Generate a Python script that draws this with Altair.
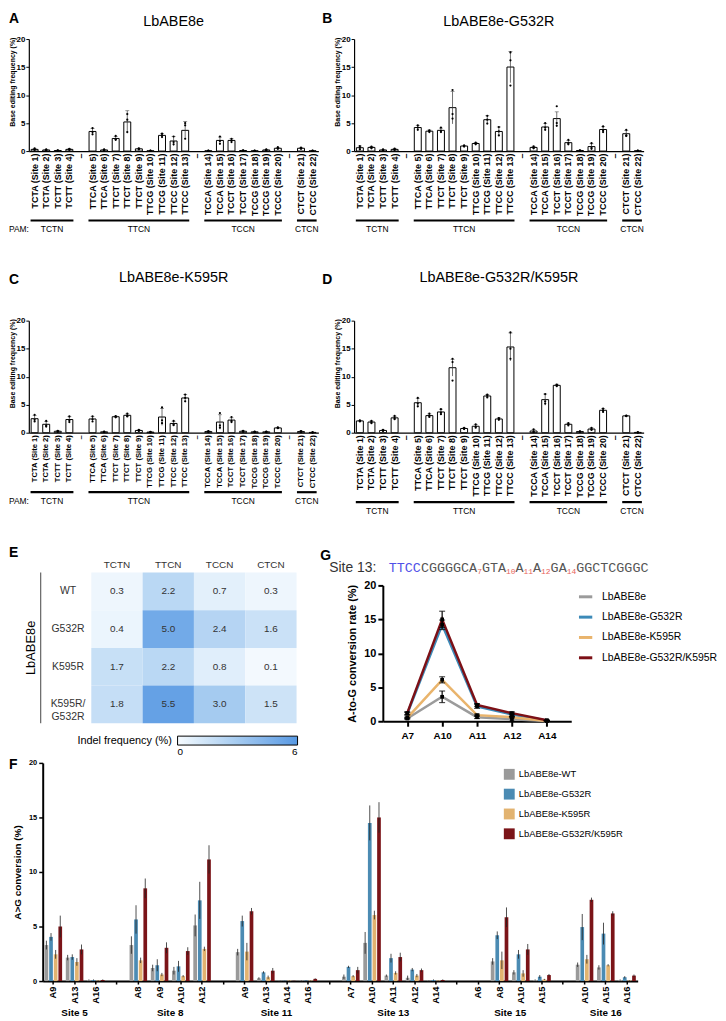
import altair as alt
import pandas as pd

FONT = "Liberation Sans"
MONO = "Liberation Mono"

# ---------------- Panels A-D ----------------
SITE_NAMES = [
    "TCTA (Site 1)", "TCTA (Site 2)", "TCTT (Site 3)", "TCTT (Site 4)",
    "TTCA (Site 5)", "TTCA (Site 6)", "TTCT (Site 7)", "TTCT (Site 8)", "TTCT (Site 9)",
    "TTCG (Site 10)", "TTCG (Site 11)", "TTCC (Site 12)", "TTCC (Site 13)",
    "TCCA (Site 14)", "TCCA (Site 15)", "TCCT (Site 16)", "TCCT (Site 17)",
    "TCCG (Site 18)", "TCCG (Site 19)", "TCCC (Site 20)",
    "CTCT (Site 21)", "CTCC (Site 22)",
]
PAM_NAMES = ["TCTN", "TTCN", "TCCN", "CTCN"]
PAM_SIZES = [4, 9, 7, 2]

A_MEAN = [0.3, 0.2, 0.1, 0.3, 3.5, 0.2, 2.25, 5.2, 0.4, 0.05, 2.8, 1.8, 3.7,
          0.05, 1.9, 1.9, 0.1, 0.05, 0.2, 0.5, 0.5, 0.05]
A_SD = [0.15, 0.1, 0.05, 0.1, 0.5, 0.1, 0.35, 2.0, 0.1, 0.03, 0.3, 0.8, 1.6,
        0.03, 0.6, 0.3, 0.05, 0.03, 0.1, 0.15, 0.1, 0.03]
A_REPS = [[0.5, 0.3, 0.2], [0.3, 0.2, 0.1], [0.15, 0.1, 0.05], [0.4, 0.3, 0.2],
          [4.1, 3.4, 3.0], [0.3, 0.2, 0.1], [2.7, 2.1, 2.0], [6.6, 5.6, 3.4], [0.5, 0.4, 0.3],
          [0.08, 0.05, 0.02], [3.1, 2.8, 2.5], [2.6, 1.6, 1.2], [5.0, 4.6, 2.2],
          [0.08, 0.05, 0.02], [2.6, 1.8, 1.3], [2.2, 1.9, 1.6], [0.15, 0.1, 0.05],
          [0.08, 0.05, 0.02], [0.3, 0.2, 0.1], [0.7, 0.5, 0.4], [0.6, 0.5, 0.4], [0.08, 0.05, 0.02]]

B_MEAN = [0.6, 0.65, 0.2, 0.3, 4.2, 3.55, 3.7, 7.75, 0.9, 1.35, 5.6, 3.5, 15.0,
          0.65, 4.3, 5.8, 1.5, 0.1, 0.8, 3.85, 3.1, 0.05]
B_SD = [0.3, 0.15, 0.1, 0.15, 0.4, 0.2, 0.4, 2.9, 0.1, 0.15, 0.7, 0.8, 2.8,
        0.2, 0.6, 1.2, 0.4, 0.05, 0.5, 0.5, 0.6, 0.03]
B_REPS = [[0.9, 0.6, 0.3], [0.8, 0.6, 0.5], [0.3, 0.2, 0.1], [0.45, 0.3, 0.2],
          [4.6, 4.2, 3.8], [3.7, 3.6, 3.4], [4.2, 3.6, 3.4], [10.9, 6.6, 5.8], [1.0, 0.9, 0.8],
          [1.5, 1.35, 1.2], [6.3, 5.6, 4.9], [4.3, 3.5, 2.8], [17.6, 16.2, 11.7],
          [0.85, 0.6, 0.5], [5.0, 4.2, 3.8], [8.0, 5.0, 4.5], [2.0, 1.4, 1.2],
          [0.15, 0.1, 0.05], [1.4, 0.6, 0.4], [4.4, 3.7, 3.4], [3.8, 2.8, 2.7], [0.08, 0.05, 0.02]]

C_MEAN = [2.5, 1.5, 0.25, 2.35, 2.45, 0.15, 2.85, 3.1, 0.4, 0.1, 2.8, 1.65, 6.2,
          0.2, 1.9, 2.25, 0.25, 0.15, 0.15, 0.85, 0.2, 0.05]
C_SD = [0.6, 0.5, 0.1, 0.5, 0.4, 0.05, 0.1, 0.25, 0.1, 0.05, 1.5, 0.4, 0.6,
        0.1, 1.3, 0.4, 0.1, 0.05, 0.05, 0.1, 0.1, 0.03]
C_REPS = [[3.2, 2.3, 2.0], [2.1, 1.3, 1.1], [0.35, 0.25, 0.15], [2.9, 2.2, 1.9],
          [2.9, 2.4, 2.0], [0.2, 0.15, 0.1], [2.95, 2.85, 2.75], [3.4, 3.0, 2.9], [0.5, 0.4, 0.3],
          [0.15, 0.1, 0.05], [4.5, 2.2, 1.7], [2.1, 1.5, 1.35], [6.8, 6.2, 5.6],
          [0.3, 0.2, 0.1], [3.5, 1.3, 0.9], [2.8, 2.1, 1.9], [0.35, 0.25, 0.15],
          [0.2, 0.15, 0.1], [0.2, 0.15, 0.1], [0.95, 0.85, 0.8], [0.3, 0.2, 0.1], [0.08, 0.05, 0.02]]

D_MEAN = [2.1, 1.9, 0.4, 2.65, 5.35, 3.05, 3.7, 11.6, 0.75, 1.15, 6.55, 2.45, 15.3,
          0.3, 5.9, 8.45, 1.5, 0.2, 0.65, 4.0, 3.0, 0.05]
D_SD = [0.1, 0.2, 0.1, 0.3, 0.8, 0.3, 0.5, 1.5, 0.1, 0.3, 0.3, 0.2, 2.5,
        0.3, 1.0, 0.2, 0.2, 0.05, 0.2, 0.3, 0.1, 0.03]
D_REPS = [[2.2, 2.1, 2.0], [2.1, 1.9, 1.7], [0.5, 0.4, 0.3], [3.0, 2.6, 2.4],
          [6.2, 5.2, 4.7], [3.4, 3.0, 2.8], [4.2, 3.6, 3.3], [13.2, 12.6, 9.3], [0.85, 0.75, 0.65],
          [1.5, 1.1, 0.9], [6.8, 6.6, 6.3], [2.6, 2.5, 2.3], [17.9, 15.0, 13.2],
          [0.6, 0.2, 0.1], [6.9, 5.6, 5.2], [8.6, 8.5, 8.3], [1.7, 1.5, 1.3],
          [0.25, 0.2, 0.15], [0.85, 0.6, 0.5], [4.3, 4.0, 3.7], [3.05, 3.0, 2.95], [0.08, 0.05, 0.02]]

# ---------------- Panel E ----------------
E_ROWS = ["WT", "G532R", "K595R", "K595R/G532R"]
E_COLS = ["TCTN", "TTCN", "TCCN", "CTCN"]
E_VALUES = [[0.3, 2.2, 0.7, 0.3],
            [0.4, 5.0, 2.4, 1.6],
            [1.7, 2.2, 0.8, 0.1],
            [1.8, 5.5, 3.0, 1.5]]

# ---------------- Panel G ----------------
G_POS = ["A7", "A10", "A11", "A12", "A14"]
G_SERIES = ["LbABE8e", "LbABE8e-G532R", "LbABE8e-K595R", "LbABE8e-G532R/K595R"]
G_COLORS = ["#9b9b9b", "#3c8ab8", "#e9b46c", "#7d1016"]
G_MEAN = [[0.4, 3.6, 0.6, 0.3, 0.05],
          [1.1, 14.2, 2.2, 1.0, 0.1],
          [0.5, 6.1, 0.9, 0.6, 0.05],
          [1.2, 15.0, 2.4, 1.2, 0.15]]
G_SD = [[0.1, 0.85, 0.2, 0.35, 0.02],
        [0.2, 0.7, 0.3, 0.2, 0.03],
        [0.1, 0.45, 0.15, 0.1, 0.02],
        [0.2, 1.2, 0.2, 0.2, 0.03]]
SEQ_SEGMENTS = [("TTCC", "main", "#5050e8"), ("CGGGGCA", "main", "#555555"), ("7", "sub", "#e8645a"),
                ("GTA", "main", "#555555"), ("10", "sub", "#e8645a"), ("A", "main", "#555555"),
                ("11", "sub", "#e8645a"), ("A", "main", "#555555"), ("12", "sub", "#e8645a"),
                ("GA", "main", "#555555"), ("14", "sub", "#e8645a"), ("GGCTCGGGC", "main", "#555555")]

# ---------------- Panel F ----------------
F_SITES = ["Site 5", "Site 8", "Site 11", "Site 13", "Site 15", "Site 16"]
F_POS = [["A9", "A13", "A16"], ["A8", "A9", "A10", "A12"], ["A9", "A13", "A14", "A16"],
         ["A7", "A10", "A11", "A12", "A14"], ["A6", "A8", "A10", "A15"], ["A10", "A15", "A16"]]
F_SERIES = ["LbABE8e-WT", "LbABE8e-G532R", "LbABE8e-K595R", "LbABE8e-G532R/K595R"]
F_COLORS = ["#9a9a9a", "#4b8bb3", "#e2b370", "#7b1418"]
F_MEAN = [
    [3.3, 2.15, 0.1, 3.3, 1.2, 0.95, 5.1, 2.65, 0.25, 0.02, 0.05, 0.4, 3.5, 0.5, 0.3, 0.05, 0.0, 1.8, 0.8, 0.1, 1.5, 1.25, 0.1],
    [4.05, 2.2, 0.1, 5.65, 1.45, 1.35, 7.4, 5.5, 0.8, 0.03, 0.05, 1.3, 14.5, 2.1, 1.05, 0.1, 0.0, 4.2, 2.45, 0.4, 4.95, 4.35, 0.35],
    [2.45, 1.75, 0.05, 1.9, 0.6, 0.45, 2.95, 2.7, 0.35, 0.05, 0.05, 0.45, 6.05, 0.75, 0.5, 0.05, 0.0, 1.9, 0.7, 0.15, 2.0, 1.45, 0.05],
    [5.0, 2.9, 0.1, 8.5, 3.05, 2.75, 11.15, 6.4, 0.95, 0.02, 0.2, 1.0, 15.0, 2.2, 1.0, 0.1, 0.0, 5.85, 2.9, 0.55, 7.45, 6.2, 0.5],
]
F_SD = [
    [0.4, 0.25, 0.05, 0.8, 0.3, 0.35, 1.0, 0.3, 0.1, 0.01, 0.02, 0.2, 1.0, 0.1, 0.2, 0.02, 0.0, 0.3, 0.2, 0.05, 0.2, 0.2, 0.05],
    [0.35, 0.25, 0.05, 1.3, 0.55, 0.5, 1.7, 0.5, 0.1, 0.01, 0.02, 0.1, 1.6, 0.4, 0.15, 0.05, 0.0, 0.35, 0.4, 0.15, 1.2, 1.0, 0.1],
    [0.4, 0.35, 0.03, 0.25, 0.15, 0.1, 0.2, 0.8, 0.15, 0.02, 0.02, 0.1, 0.4, 0.15, 0.15, 0.02, 0.0, 0.8, 0.3, 0.05, 0.4, 0.1, 0.03],
    [1.0, 0.45, 0.05, 0.9, 0.5, 0.35, 1.3, 0.3, 0.25, 0.01, 0.05, 0.3, 1.4, 0.4, 0.15, 0.05, 0.0, 0.9, 0.5, 0.1, 0.2, 0.2, 0.1],
]


# ---------------- helpers ----------------
def text_chart(txt, x, y, size, weight="normal", color="black", align="left",
               baseline="top", angle=None, font=FONT):
    kw = dict(fontSize=size, fontWeight=weight, color=color, align=align,
              baseline=baseline, font=font)
    if angle is not None:
        kw["angle"] = angle
    return alt.Chart(pd.DataFrame({"t": [txt]})).mark_text(**kw).encode(
        text="t:N", x=alt.value(x), y=alt.value(y))


def spacer(w, h):
    return alt.Chart(pd.DataFrame({"t": [""]})).mark_text().encode(
        text="t:N", x=alt.value(0), y=alt.value(0)).properties(width=w, height=h)


def build_slots():
    slots, spans, i = [], [], 0
    for g, (name, size) in enumerate(zip(PAM_NAMES, PAM_SIZES)):
        start = len(slots)
        slots += SITE_NAMES[i:i + size]
        i += size
        spans.append((name, start, len(slots) - 1))
        if g < len(PAM_NAMES) - 1:
            slots.append(f"sep{g}")
    return slots, spans


SLOTS, SPANS = build_slots()


def bar_panel(letter, title, mean, sd, reps, W=292, H=113, lab_fs=9, line_off=70,
              pam=False, letter_dx=-20, letter_dy=-27, title_dy=-17):
    df = pd.DataFrame({"slot": SITE_NAMES, "mean": mean,
                       "lo": [max(m - s, 0) for m, s in zip(mean, sd)],
                       "hi": [m + s for m, s in zip(mean, sd)]})
    rdf = pd.DataFrame({"slot": [s for s, r in zip(SITE_NAMES, reps) for _ in r],
                        "v": [v for r in reps for v in r]})
    xscale = alt.Scale(domain=SLOTS, paddingInner=0.4, paddingOuter=0.2)
    xaxis = alt.Axis(title=None, labelAngle=270, labelFontWeight="bold", labelFontSize=lab_fs,
                     labelColor="black", ticks=False, domainColor="black", domainWidth=1.2,
                     labelPadding=2, labelOverlap=False,
                     labelExpr="indexof(datum.value, 'sep') == 0 ? '\u2013' : datum.value")
    X = alt.X("slot:N", sort=SLOTS, scale=xscale, axis=xaxis)
    yscale = alt.Scale(domain=[0, 20], nice=False)
    yaxis = alt.Axis(values=[0, 5, 10, 15, 20], title="Base editing frequency (%)",
                     titleFontSize=7, titleFontWeight="bold", titleColor="black",
                     labelFontSize=8, labelFontWeight="bold", labelColor="black",
                     tickColor="black", tickSize=3, domainColor="black", domainWidth=1.2,
                     labelPadding=1, titlePadding=1, grid=False, titleY=43)

    def Y(f):
        return alt.Y(f, scale=yscale, axis=yaxis)

    bars = alt.Chart(df).mark_bar(fill="white", stroke="black", strokeWidth=1).encode(
        x=X, y=Y("mean:Q"))
    err = alt.Chart(df).mark_rule(color="#333333", strokeWidth=0.7).encode(
        x=X, y=Y("lo:Q"), y2="hi:Q")
    cap = alt.Chart(df).mark_tick(color="#333333", thickness=0.7, size=4).encode(
        x=X, y=Y("hi:Q"))
    dots = alt.Chart(rdf).mark_circle(size=5, color="black", opacity=1).encode(
        x=X, y=Y("v:Q"))
    core = alt.layer(bars, err, cap, dots)

    gdf = pd.DataFrame({"pam": [s[0] for s in SPANS],
                        "x1": [s[1] + 0.5 - 0.35 for s in SPANS],
                        "x2": [s[2] + 0.5 + 0.35 for s in SPANS],
                        "xm": [(s[1] + s[2]) / 2 + 0.5 for s in SPANS]})
    qx = alt.Scale(domain=[0, len(SLOTS)], nice=False, zero=False)
    glines = alt.Chart(gdf).mark_rule(color="black", strokeWidth=2.2).encode(
        x=alt.X("x1:Q", scale=qx, axis=None), x2="x2:Q", y=alt.value(H + line_off))
    glabels = alt.Chart(gdf).mark_text(fontSize=8.5, baseline="top", color="black").encode(
        x=alt.X("xm:Q", scale=qx, axis=None), y=alt.value(H + line_off + 5), text="pam:N")
    layers = [core, glines, glabels,
              text_chart(letter, letter_dx, letter_dy, 14, "bold"),
              text_chart(title, W / 2, title_dy, 14.5, align="center", baseline="middle")]
    if pam:
        layers.append(text_chart("PAM:", -20, H + line_off + 5, 8.5))
    return alt.layer(*layers).resolve_scale(x="independent").properties(width=W, height=H)


A = bar_panel("A", "LbABE8e", A_MEAN, A_SD, A_REPS, pam=True)
B = bar_panel("B", "LbABE8e-G532R", B_MEAN, B_SD, B_REPS, letter_dx=-32)
C = bar_panel("C", "LbABE8e-K595R", C_MEAN, C_SD, C_REPS, lab_fs=7.7, line_off=60, pam=True,
              letter_dy=-48, title_dy=-43)
D = bar_panel("D", "LbABE8e-G532R/K595R", D_MEAN, D_SD, D_REPS, letter_dx=-32,
              letter_dy=-48, title_dy=-43)

# ---------------- E heatmap ----------------
edf = pd.DataFrame([{"row": r, "col": c, "v": v}
                    for r, vals in zip(E_ROWS, E_VALUES) for c, v in zip(E_COLS, vals)])
edf["lab"] = edf["v"].map(lambda v: f"{v:.1f}")
EH = 152
EX = alt.X("col:N", sort=E_COLS, scale=alt.Scale(range=[0, 207], paddingInner=0, paddingOuter=0),
           axis=alt.Axis(orient="top", title=None, labelAngle=0, ticks=False, tickSize=0,
                         domain=False, labelFontSize=10, labelColor="#333333", labelPadding=3))
EY = alt.Y("row:N", sort=E_ROWS, scale=alt.Scale(paddingInner=0, paddingOuter=0),
           axis=alt.Axis(title=None, ticks=False, tickSize=0, domain=False, labelAlign="center",
                         labelPadding=24, labelFontSize=10.5, labelColor="#333333",
                         labelLineHeight=13,
                         labelExpr="datum.value == 'K595R/G532R' ? ['K595R/', 'G532R'] : datum.value"))
ecolor = alt.Color("v:Q", scale=alt.Scale(domain=[0, 6], range=["#f6fbff", "#5799e3"]),
                   legend=alt.Legend(title="Indel frequency (%)", orient="none", legendX=-14,
                                     legendY=165, direction="horizontal", titleOrient="left",
                                     gradientLength=121, gradientThickness=9, values=[0, 6],
                                     titleFontSize=11, titleFontWeight="normal", titleColor="black",
                                     labelFontSize=10, labelColor="black",
                                     gradientStrokeColor="black", gradientStrokeWidth=1,
                                     titlePadding=5))
erect = alt.Chart(edf).mark_rect().encode(x=EX, y=EY, color=ecolor)
etext = alt.Chart(edf).mark_text(fontSize=10, color="#333333").encode(x=EX, y=EY, text="lab:N")
ebracket = alt.Chart(pd.DataFrame({"t": [0]})).mark_rule(color="#444444", strokeWidth=1).encode(
    x=alt.value(-51), y=alt.value(0), y2=alt.value(EH))
E = alt.layer(erect, etext, ebracket,
              text_chart("LbABE8e", -61, EH / 2, 13, align="center", baseline="middle", angle=270),
              text_chart("E", -83, -27, 14, "bold")).properties(width=264, height=EH)

# ---------------- G line chart ----------------
grows = []
for s, ms, ss in zip(G_SERIES, G_MEAN, G_SD):
    for p, m, d in zip(G_POS, ms, ss):
        grows.append({"series": s, "pos": p, "m": m, "lo": max(m - d, 0), "hi": m + d})
gdf = pd.DataFrame(grows)
GH = 150
gys = alt.Scale(domain=[0, 20], range=[GH, 13], nice=False)
GX = alt.X("pos:N", sort=G_POS, scale=alt.Scale(type="point", padding=0.7),
           axis=alt.Axis(title=None, labelAngle=0, labelFontWeight="bold", labelFontSize=10,
                         labelColor="black", tickColor="black", tickWidth=2, tickSize=5,
                         domainColor="black", domainWidth=2, labelPadding=4))
gyaxis = alt.Axis(values=[0, 5, 10, 15, 20], title="A-to-G conversion rate (%)",
                  titleFontSize=11, titleFontWeight="bold", titleColor="black",
                  labelFontSize=11, labelFontWeight="bold", labelColor="black",
                  tickColor="black", tickWidth=2, tickSize=5, domainColor="black",
                  domainWidth=2, grid=False, labelPadding=2, titlePadding=6)


def GYf(f):
    return alt.Y(f, scale=gys, axis=gyaxis)


glines = alt.Chart(gdf).mark_line(strokeWidth=2.5).encode(
    x=GX, y=GYf("m:Q"),
    color=alt.Color("series:N", sort=G_SERIES, scale=alt.Scale(domain=G_SERIES, range=G_COLORS),
                    legend=alt.Legend(title=None, orient="none", legendX=196, legendY=16,
                                      symbolType="stroke", symbolStrokeWidth=3, symbolSize=180,
                                      labelFontSize=10.5, labelColor="black", rowPadding=5.5,
                                      labelOffset=8)))
gerr = alt.Chart(gdf).mark_rule(color="black", strokeWidth=1.2).encode(
    x=GX, y=GYf("lo:Q"), y2="hi:Q")
gcap1 = alt.Chart(gdf).mark_tick(color="black", thickness=1.2, size=6).encode(
    x=GX, y=GYf("lo:Q"))
gcap2 = alt.Chart(gdf).mark_tick(color="black", thickness=1.2, size=6).encode(
    x=GX, y=GYf("hi:Q"))
gpts = alt.Chart(gdf).mark_square(size=14, color="black", opacity=1).encode(
    x=GX, y=GYf("m:Q"))

seq_layers = [text_chart("Site 13:", -54, -1, 14, baseline="alphabetic", color="#333333")]
px = 6.0
MAIN_FS, SUB_FS = 13.5, 8
for seg, kind, col in SEQ_SEGMENTS:
    if kind == "main":
        seq_layers.append(text_chart(seg, px, -1, MAIN_FS, color=col, baseline="alphabetic", font=MONO))
        px += len(seg) * MAIN_FS * 0.6
    else:
        seq_layers.append(text_chart(seg, px, 2, SUB_FS, color=col, baseline="alphabetic", font=MONO))
        px += len(seg) * SUB_FS * 0.6

G = alt.layer(glines, gerr, gcap1, gcap2, gpts, *seq_layers,
              text_chart("G", -63, -24, 14, "bold")).properties(width=190, height=GH)

# ---------------- F grouped bars ----------------
F_SLOTS, F_SPANS, F_KEYS = [], [], []
for gi, (site, poss) in enumerate(zip(F_SITES, F_POS)):
    start = len(F_SLOTS)
    keys = [f"{site}|{p}" for p in poss]
    F_SLOTS += keys
    F_KEYS += keys
    F_SPANS.append((site, start, len(F_SLOTS) - 1))
    if gi < len(F_SITES) - 1:
        F_SLOTS.append(f"sep{gi}")

frows = []
for s, ms, ss in zip(F_SERIES, F_MEAN, F_SD):
    for k, m, d in zip(F_KEYS, ms, ss):
        frows.append({"slot": k, "series": s, "m": m, "lo": max(m - d, 0), "hi": m + d})
fdf = pd.DataFrame(frows)
FW, FH = 600, 220
fxs = alt.Scale(domain=F_SLOTS, paddingInner=0, paddingOuter=0)
FX = alt.X("slot:N", sort=F_SLOTS, scale=fxs,
           axis=alt.Axis(title=None, labelAngle=270, labelFontWeight="bold", labelFontSize=9.5,
                         labelColor="black", tickColor="black", tickSize=3, tickWidth=1.5,
                         domainColor="black", domainWidth=2, labelPadding=2, labelOverlap=False,
                         labelExpr="indexof(datum.value, 'sep') == 0 ? '' : split(datum.value, '|')[1]"))
FXO = alt.XOffset("series:N", sort=F_SERIES,
                  scale=alt.Scale(domain=F_SERIES, paddingInner=0.2, paddingOuter=0.4))
fys = alt.Scale(domain=[0, 20], nice=False)
fyaxis = alt.Axis(values=[0, 5, 10, 15, 20], title="A>G conversion (%)", titleFontSize=10,
                  titleFontWeight="bold", titleColor="black", labelFontSize=7.5,
                  labelFontWeight="bold", labelColor="black", tickColor="black", tickSize=4,
                  tickWidth=1.5, domainColor="black", domainWidth=2, grid=False,
                  labelPadding=2, titlePadding=6)
fbars = alt.Chart(fdf).mark_bar().encode(
    x=FX, xOffset=FXO, y=alt.Y("m:Q", scale=fys, axis=fyaxis),
    color=alt.Color("series:N", sort=F_SERIES, scale=alt.Scale(domain=F_SERIES, range=F_COLORS),
                    legend=alt.Legend(title=None, orient="none", legendX=479, legendY=6,
                                      symbolType="square", symbolSize=120, symbolStrokeWidth=0,
                                      labelFontSize=9.5, labelColor="black", rowPadding=9)))
ferr = alt.Chart(fdf).mark_rule(color="#222222", strokeWidth=0.8).encode(
    x=FX, xOffset=FXO, y=alt.Y("lo:Q", scale=fys, axis=fyaxis), y2="hi:Q")
sdf = pd.DataFrame({"site": [s[0] for s in F_SPANS],
                    "xm": [(s[1] + s[2]) / 2 + 0.5 for s in F_SPANS]})
fqx = alt.Scale(domain=[0, len(F_SLOTS)], nice=False, zero=False)
fsites = alt.Chart(sdf).mark_text(fontSize=10, fontWeight="bold", color="black",
                                  baseline="middle").encode(
    x=alt.X("xm:Q", scale=fqx, axis=None), y=alt.value(FH + 32), text="site:N")
F = alt.layer(alt.layer(fbars, ferr), fsites,
              text_chart("F", -34, -5, 14, "bold")).resolve_scale(x="independent").properties(
    width=FW, height=FH)

# ---------------- layout ----------------
row1 = alt.hconcat(A, B, spacing=36, bounds="flush")
row2 = alt.hconcat(C, D, spacing=36, bounds="flush")
row3 = alt.hconcat(spacer(33, EH), E, G, spacing=30, bounds="flush").resolve_scale(color="independent")
row4 = alt.hconcat(spacer(1, FH), F, spacing=13, bounds="flush")

chart = alt.vconcat(row1, spacer(1, 30), row2, spacer(1, 24), row3, row4,
                    spacing=0).resolve_scale(color="independent").properties(
    padding=0).configure(font=FONT).configure_view(stroke=None)

chart.save("out.html", embed_options={"renderer": "svg", "actions": False})
